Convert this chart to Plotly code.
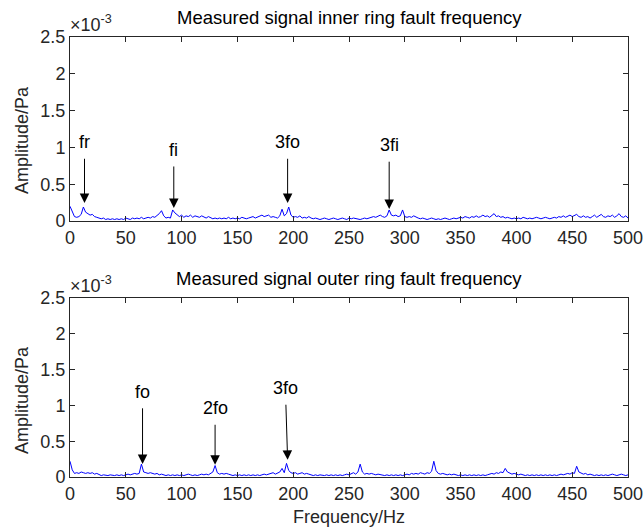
import plotly.graph_objects as go

# Frequency bins (Hz), 2 Hz resolution
freq = list(range(0, 501, 2))

# Amplitudes in units of 1e-3 Pa (inner ring fault measurement)
inner_amp = [
    0.20, 0.14, 0.06, 0.05, 0.06, 0.09, 0.19, 0.12, 0.10, 0.08,
    0.09, 0.06, 0.05, 0.04, 0.03, 0.04, 0.02, 0.03, 0.02, 0.03,
    0.02, 0.03, 0.02, 0.03, 0.02, 0.04, 0.03, 0.02, 0.04, 0.03,
    0.04, 0.03, 0.05, 0.03, 0.04, 0.05, 0.04, 0.06, 0.05, 0.07,
    0.10, 0.14, 0.07, 0.04, 0.05, 0.04, 0.15, 0.11, 0.08, 0.06,
    0.08, 0.05, 0.07, 0.06, 0.08, 0.05, 0.07, 0.06, 0.05, 0.07,
    0.05, 0.04, 0.06, 0.04, 0.03, 0.04, 0.03, 0.04, 0.03, 0.04,
    0.03, 0.05, 0.03, 0.04, 0.03, 0.04, 0.03, 0.05, 0.04, 0.03,
    0.04, 0.05, 0.06, 0.04, 0.05, 0.06, 0.08, 0.06, 0.07, 0.08,
    0.05, 0.06, 0.05, 0.04, 0.07, 0.16, 0.07, 0.10, 0.19, 0.08,
    0.05, 0.06, 0.05, 0.07, 0.04, 0.05, 0.04, 0.06, 0.04, 0.03,
    0.04, 0.03, 0.02, 0.03, 0.04, 0.03, 0.02, 0.03, 0.04, 0.03,
    0.02, 0.03, 0.04, 0.03, 0.02, 0.04, 0.03, 0.04, 0.03, 0.03,
    0.02, 0.03, 0.04, 0.03, 0.04, 0.05, 0.06, 0.05, 0.07, 0.08,
    0.06, 0.05, 0.07, 0.15, 0.08, 0.07, 0.08, 0.06, 0.07, 0.15,
    0.06, 0.05, 0.06, 0.05, 0.07, 0.05, 0.04, 0.03, 0.04, 0.03,
    0.02, 0.03, 0.04, 0.03, 0.02, 0.03, 0.02, 0.03, 0.04, 0.03,
    0.02, 0.03, 0.04, 0.03, 0.04, 0.05, 0.04, 0.06, 0.05, 0.04,
    0.06, 0.05, 0.07, 0.05, 0.06, 0.08, 0.06, 0.07, 0.05, 0.08,
    0.10, 0.06, 0.07, 0.05, 0.06, 0.04, 0.05, 0.04, 0.03, 0.04,
    0.03, 0.04, 0.03, 0.05, 0.04, 0.03, 0.04, 0.03, 0.04, 0.05,
    0.04, 0.03, 0.04, 0.05, 0.04, 0.03, 0.04, 0.05, 0.04, 0.06,
    0.05, 0.07, 0.05, 0.06, 0.08, 0.06, 0.07, 0.09, 0.06, 0.05,
    0.07, 0.05, 0.06, 0.04, 0.06, 0.08, 0.05, 0.07, 0.09, 0.06,
    0.05, 0.07, 0.06, 0.08, 0.05, 0.07, 0.10, 0.06, 0.05, 0.07,
    0.04,
]

# Amplitudes in units of 1e-3 Pa (outer ring fault measurement)
outer_amp = [
    0.22, 0.10, 0.05, 0.06, 0.05, 0.07, 0.06, 0.05, 0.06, 0.05,
    0.06, 0.04, 0.05, 0.03, 0.02, 0.03, 0.02, 0.02, 0.03, 0.02,
    0.02, 0.03, 0.02, 0.03, 0.02, 0.03, 0.04, 0.03, 0.04, 0.05,
    0.04, 0.05, 0.18, 0.07, 0.06, 0.05, 0.06, 0.05, 0.04, 0.05,
    0.03, 0.04, 0.03, 0.02, 0.03, 0.02, 0.03, 0.02, 0.03, 0.02,
    0.03, 0.02, 0.03, 0.04, 0.03, 0.02, 0.03, 0.02, 0.03, 0.04,
    0.03, 0.04, 0.03, 0.05, 0.07, 0.16, 0.06, 0.04, 0.05, 0.04,
    0.05, 0.04, 0.03, 0.02, 0.03, 0.02, 0.03, 0.02, 0.03, 0.02,
    0.03, 0.02, 0.03, 0.02, 0.03, 0.02, 0.03, 0.04, 0.03, 0.04,
    0.05, 0.06, 0.04, 0.05, 0.07, 0.12, 0.06, 0.19, 0.09, 0.06,
    0.05, 0.06, 0.04, 0.05, 0.06, 0.04, 0.05, 0.04, 0.03, 0.02,
    0.03, 0.02, 0.03, 0.02, 0.02, 0.03, 0.02, 0.03, 0.02, 0.03,
    0.02, 0.03, 0.02, 0.03, 0.04, 0.03, 0.05, 0.06, 0.04, 0.07,
    0.18, 0.07, 0.04, 0.05, 0.04, 0.05, 0.04, 0.03, 0.04, 0.03,
    0.03, 0.02, 0.03, 0.02, 0.03, 0.02, 0.03, 0.02, 0.03, 0.02,
    0.03, 0.04, 0.03, 0.05, 0.04, 0.05, 0.04, 0.06, 0.05, 0.04,
    0.06, 0.05, 0.08, 0.22, 0.09, 0.05, 0.04, 0.05, 0.04, 0.03,
    0.04, 0.03, 0.04, 0.03, 0.02, 0.03, 0.02, 0.03, 0.02, 0.03,
    0.02, 0.03, 0.02, 0.03, 0.02, 0.03, 0.02, 0.03, 0.04, 0.05,
    0.04, 0.06, 0.05, 0.07, 0.06, 0.12, 0.07, 0.05, 0.04, 0.05,
    0.04, 0.03, 0.04, 0.03, 0.02, 0.03, 0.02, 0.03, 0.02, 0.03,
    0.02, 0.03, 0.02, 0.03, 0.02, 0.03, 0.02, 0.03, 0.02, 0.03,
    0.04, 0.03, 0.04, 0.05, 0.04, 0.06, 0.05, 0.15, 0.07, 0.05,
    0.04, 0.05, 0.03, 0.04, 0.03, 0.02, 0.03, 0.02, 0.03, 0.02,
    0.03, 0.02, 0.03, 0.04, 0.03, 0.02, 0.03, 0.04, 0.03, 0.02,
    0.03,
]

x_ticks = [0, 50, 100, 150, 200, 250, 300, 350, 400, 450, 500]
y_ticks = [0, 0.5, 1, 1.5, 2, 2.5]
y_tick_text = ["0", "0.5", "1", "1.5", "2", "2.5"]

titles = ["Measured signal inner ring fault frequency",
          "Measured signal outer ring fault frequency"]
y_title = "Amplitude/Pa"
x_title = "Frequency/Hz"

# (label, tip frequency, tip amplitude, label frequency, label amplitude)
inner_marks = [("fr", 13, 0.245, 13, 1.07), ("fi", 93, 0.177, 93, 0.965),
               ("3fo", 195, 0.245, 195, 1.07), ("3fi", 286, 0.163, 286, 1.03)]
outer_marks = [("fo", 65, 0.18, 65, 1.19), ("2fo", 130, 0.17, 130, 0.96),
               ("3fo", 195, 0.24, 193, 1.24)]

FONT = "Liberation Sans"
AX = "#262626"
FS = 18

fig = go.Figure()
fig.add_trace(go.Scatter(x=freq, y=inner_amp, mode="lines",
                         line=dict(color="#0000ff", width=1),
                         xaxis="x", yaxis="y", showlegend=False))
fig.add_trace(go.Scatter(x=freq, y=outer_amp, mode="lines",
                         line=dict(color="#0000ff", width=1),
                         xaxis="x2", yaxis="y2", showlegend=False))

W, H = 643, 529
x_dom = [70 / W, 628 / W]
top_dom = [(H - 221) / H, (H - 37) / H]
bot_dom = [(H - 477) / H, (H - 298) / H]

axis_common = dict(showline=True, linecolor=AX, linewidth=1, mirror="allticks",
                   ticks="inside", ticklen=5, tickcolor=AX, tickwidth=1,
                   showgrid=False, zeroline=False, automargin=False,
                   ticklabeloverflow="allow",
                   tickfont=dict(family=FONT, size=FS, color=AX))

xa = dict(axis_common, range=[0, 500], tickvals=x_ticks, domain=x_dom)
ya = dict(axis_common, range=[0, 2.5], tickvals=y_ticks, ticktext=y_tick_text)

fig.update_layout(
    width=W, height=H, margin=dict(l=0, r=0, t=0, b=0, autoexpand=False),
    paper_bgcolor="white", plot_bgcolor="white",
    xaxis=dict(xa, anchor="y"),
    yaxis=dict(ya, domain=top_dom, anchor="x"),
    xaxis2=dict(xa, anchor="y2"),
    yaxis2=dict(ya, domain=bot_dom, anchor="x2"),
)

anns = []
xc = (x_dom[0] + x_dom[1]) / 2
for title, dom, ylab_center in zip(titles, [top_dom, bot_dom], [140, 400]):
    anns.append(dict(text=title, x=xc, y=dom[1],
                     xref="paper", yref="paper", xanchor="center", yanchor="bottom",
                     yshift=7, showarrow=False,
                     font=dict(family=FONT, size=18.5, color="black")))
    anns.append(dict(text="\u00d710<sup>-3</sup>", x=x_dom[0], y=dom[1],
                     xref="paper", yref="paper", xanchor="left", yanchor="bottom",
                     xshift=-2, yshift=0, showarrow=False,
                     font=dict(family=FONT, size=FS, color=AX)))
    anns.append(dict(text=y_title, x=22 / W, y=(H - ylab_center) / H,
                     xref="paper", yref="paper", xanchor="center", yanchor="middle",
                     textangle=-90, showarrow=False,
                     font=dict(family=FONT, size=FS, color=AX)))

anns.append(dict(text=x_title, x=xc, y=(H - 517) / H, xref="paper", yref="paper",
                 xanchor="center", yanchor="middle", showarrow=False,
                 font=dict(family=FONT, size=FS, color=AX)))

for marks, xr, yr in [(inner_marks, "x", "y"), (outer_marks, "x2", "y2")]:
    for label, f, tip, lf, la in marks:
        anns.append(dict(x=f, y=tip, ax=lf, ay=la, xref=xr, yref=yr,
                         axref=xr, ayref=yr, text=label, showarrow=True,
                         arrowhead=2, arrowsize=1.9, arrowwidth=1,
                         startstandoff=5, arrowcolor="black",
                         font=dict(family=FONT, size=FS, color="black")))

fig.update_layout(annotations=anns)
fig.write_html("out.html")
